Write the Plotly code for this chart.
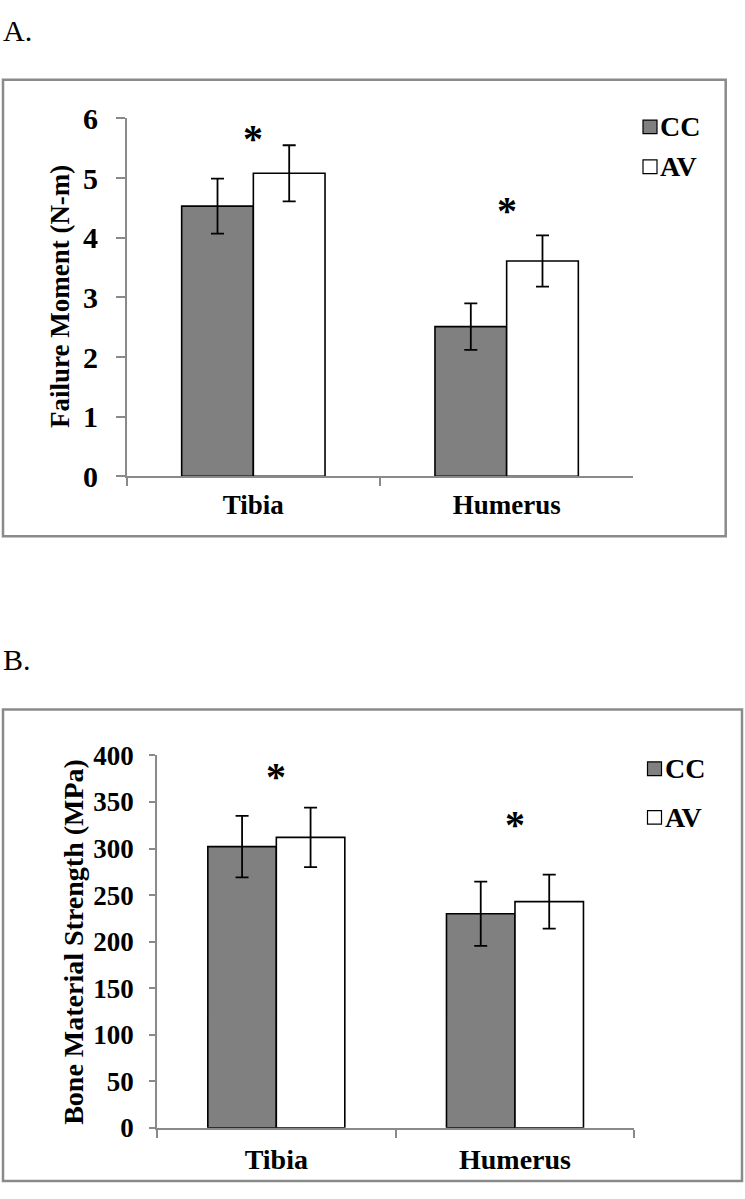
import plotly.graph_objects as go

W, H = 745, 1199

# ---------------- data ----------------
categories = ["Tibia", "Humerus"]
series_names = ["CC", "AV"]

moment_cc = [4.53, 2.51]
moment_cc_err = [0.46, 0.39]
moment_av = [5.08, 3.61]
moment_av_err = [0.47, 0.43]
moment_ticks = [0, 1, 2, 3, 4, 5, 6]
moment_star = [5.82, 4.60]

strength_cc = [302, 230]
strength_cc_err = [33, 34.5]
strength_av = [312, 243]
strength_av_err = [32, 29]
strength_ticks = [0, 50, 100, 150, 200, 250, 300, 350, 400]
strength_star = [387, 335]

panel_labels = ["A.", "B."]
y_titles = ["Failure Moment (N-m)", "Bone Material Strength (MPa)"]

# ---------------- styling ----------------
FONT = "Liberation Serif"
GRAY = "#8a8a8a"
CC_FILL = "#808080"
AV_FILL = "#ffffff"


def px_x(x):
    return x / W


def px_y(y):
    return 1 - y / H


fig = go.Figure()

panels = [
    dict(xa="x", ya="y", cc=moment_cc, cce=moment_cc_err, av=moment_av, ave=moment_av_err,
         star=moment_star, bw=0.283),
    dict(xa="x2", ya="y2", cc=strength_cc, cce=strength_cc_err, av=strength_av, ave=strength_av_err,
         star=strength_star, bw=0.287),
]

for p in panels:
    for name, vals, errs, fill, off in [
        (series_names[0], p["cc"], p["cce"], CC_FILL, -p["bw"]),
        (series_names[1], p["av"], p["ave"], AV_FILL, 0.0),
    ]:
        fig.add_trace(go.Bar(
            x=categories, y=vals, name=name, xaxis=p["xa"], yaxis=p["ya"],
            width=p["bw"], offset=off,
            marker=dict(color=fill, line=dict(color="black", width=1.6)),
            error_y=dict(type="data", array=errs, visible=True, color="black",
                         thickness=1.8, width=6.5),
            showlegend=False, hoverinfo="skip",
        ))
    for cat, sy in zip(categories, p["star"]):
        fig.add_annotation(x=cat, y=sy, xref=p["xa"], yref=p["ya"], text="<b>*</b>",
                           showarrow=False, yanchor="middle", yshift=-9,
                           font=dict(family=FONT, size=40, color="black"))


def axis_common(size):
    return dict(
        showline=True, linecolor=GRAY, linewidth=1.5, showgrid=False, zeroline=False,
        ticks="outside", tickcolor=GRAY, tickwidth=1.5, fixedrange=True,
        tickfont=dict(family=FONT, size=size, color="black", weight="bold"),
    )


fig.update_layout(
    width=W, height=H, margin=dict(l=0, r=0, t=0, b=0),
    paper_bgcolor="white", plot_bgcolor="white",
    barmode="overlay",
    xaxis=dict(domain=[px_x(126.7), px_x(633.3)], anchor="y", type="category",
               tickson="boundaries", ticklen=8, ticklabelstandoff=4, **axis_common(27)),
    yaxis=dict(domain=[px_y(472.3), px_y(104.3)], anchor="x", range=[0, 6],
               tickvals=moment_ticks, ticklen=9, ticklabelstandoff=12, **axis_common(30)),
    xaxis2=dict(domain=[px_x(157), px_x(634.3)], anchor="y2", type="category",
                tickson="boundaries", ticklen=8, ticklabelstandoff=6, **axis_common(28)),
    yaxis2=dict(domain=[px_y(1142.3), px_y(759.3)], anchor="x2", range=[0, 400],
                tickvals=strength_ticks, ticklen=6, ticklabelstandoff=10, **axis_common(27)),
)

# panel frames
for (x0, y0, x1, y1) in [(3, 64.5, 725.7, 534), (3, 712, 742, 1197)]:
    fig.add_shape(type="rect", xref="paper", yref="paper",
                  x0=px_x(x0), x1=px_x(x1), y0=px_y(y1), y1=px_y(y0),
                  line=dict(color=GRAY, width=2.5), fillcolor="rgba(0,0,0,0)", layer="below")

# panel labels
for lab, (lx, ly) in zip(panel_labels, [(1, 14), (1, 661)]):
    fig.add_annotation(x=px_x(lx), y=px_y(ly), xref="paper", yref="paper", text=lab,
                       showarrow=False, xanchor="left", yanchor="middle",
                       font=dict(family=FONT, size=30, color="black"))

# y-axis titles
for t, sz, (tx, ty) in zip(y_titles, [27, 28], [(60, 288), (74, 951)]):
    fig.add_annotation(x=px_x(tx), y=px_y(ty), xref="paper", yref="paper",
                       text="<b>" + t + "</b>", textangle=-90, showarrow=False,
                       xanchor="center", yanchor="middle",
                       font=dict(family=FONT, size=sz, color="black"))

# legends (swatch + label)
legend_pos = [
    [(643, 113, CC_FILL), (643, 154, AV_FILL)],
    [(647.5, 773, CC_FILL), (647.5, 823, AV_FILL)],
]
for items in legend_pos:
    for name, (sx, sy, fill) in zip(series_names, items):
        fig.add_shape(type="rect", xref="paper", yref="paper",
                      x0=px_x(sx), x1=px_x(sx + 14), y0=px_y(sy + 7), y1=px_y(sy - 7),
                      line=dict(color="black", width=1.2), fillcolor=fill)
        fig.add_annotation(x=px_x(sx + 15), y=px_y(sy), xref="paper", yref="paper",
                           text="<b>" + name + "</b>", showarrow=False,
                           xanchor="left", yanchor="middle",
                           font=dict(family=FONT, size=28, color="black"))

fig.write_html("out.html",
               config={"displayModeBar": False, "staticPlot": False},
               post_script="document.body.style.margin='0';document.body.style.overflow='hidden';")
